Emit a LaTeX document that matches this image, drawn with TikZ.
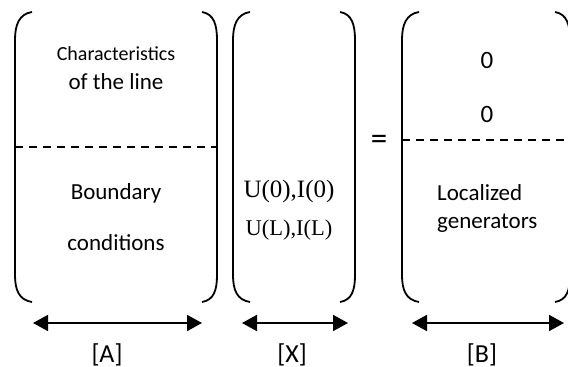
\documentclass[tikz,border=0pt]{standalone}
\usepackage{fontspec}
\setmainfont{Carlito}
\newfontfamily\timesfont{Liberation Serif}
\usetikzlibrary{arrows.meta,positioning}

\begin{document}
\begin{tikzpicture}[x=1pt,y=-1pt,
  lbl/.style={anchor=base,inner sep=0pt,font=\fontsize{23}{23}\selectfont},
  brk/.style={line width=1.8pt},
  sep/.style={line width=1.3pt,dash pattern=on 8pt off 6pt},
  span/.style={line width=1.8pt,{Triangle[length=15pt,width=16pt]}-{Triangle[length=15pt,width=16pt]}}]
\useasboundingbox (0,0) rectangle (568,367);
% the three matrices as round brackets
\foreach \l/\r in {15/217,233/355,402/570}{
  \draw[brk] (\l+17,12) .. controls (\l+4,14) and (\l,25) .. (\l,40) -- (\l,275)
    .. controls (\l,290) and (\l+4,300) .. (\l+17,302);
  \draw[brk] (\r-15,12) .. controls (\r-3,14) and (\r,25) .. (\r,40) -- (\r,275)
    .. controls (\r,290) and (\r-3,300) .. (\r-15,302);
}
\draw[sep] (15,147) -- (217,147);
\draw[sep] (402,140) -- (568,140);
% [A]
\node[lbl,font=\fontsize{20}{20}\selectfont] (char) at (116,60) {Characteristics};
\node[lbl] (line) at (116,89) {of the line};
\node[lbl] (bound) at (116,199) {Boundary};
\node[lbl] (cond) at (116,250) {conditions};
% [X]
\node[lbl,font=\timesfont\fontsize{25}{25}\selectfont] (x0) at (289,197) {U(0),I(0)};
\node[lbl,font=\timesfont\fontsize{22.5}{22.5}\selectfont] (xl) at (289,235) {U(L),I(L)};
\node[inner sep=0pt,font=\fontsize{33}{33}\selectfont] (eq) at (379,142) {=};
% [B]
\node[lbl,font=\fontsize{25}{25}\selectfont] (z1) at (487,68) {0};
\node[lbl,font=\fontsize{25}{25}\selectfont] (z2) at (487,122) {0};
\node[lbl,anchor=base west] (loc) at (437,200) {Localized};
\node[lbl,anchor=base west] (gen) at (437,228) {generators};
% sizes of the blocks
\coordinate (a-l) at (33,323);
\coordinate (a-r) at (202,323);
\coordinate (x-l) at (242,323);
\coordinate (x-r) at (348,323);
\coordinate (b-l) at (412,323);
\coordinate (b-r) at (564,323);
\draw[span] (a-l) -- (a-r);
\draw[span] (x-l) -- (x-r);
\draw[span] (b-l) -- (b-r);
\node[lbl,font=\fontsize{26}{26}\selectfont] (A) at (107,362) {[A]};
\node[lbl,font=\fontsize{26}{26}\selectfont] (X) at (292,362) {[X]};
\node[lbl,font=\fontsize{26}{26}\selectfont] (B) at (482,362) {[B]};
\end{tikzpicture}
\end{document}
